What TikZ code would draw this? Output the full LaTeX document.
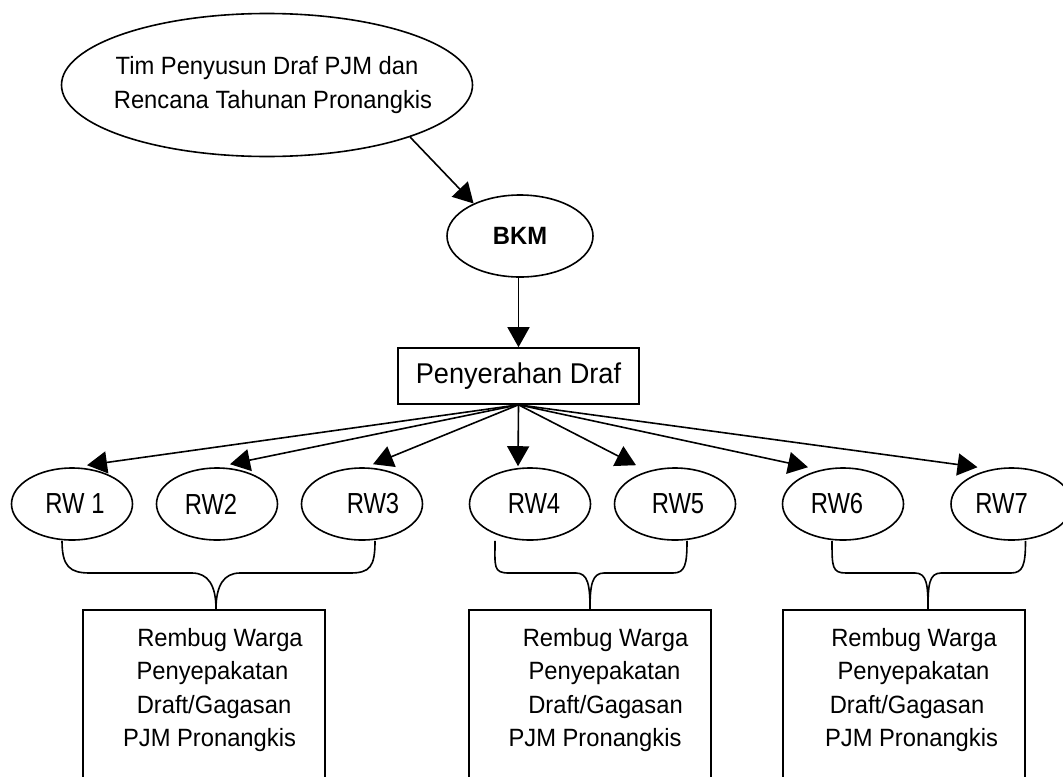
\documentclass[tikz,border=0pt]{standalone}
\usepackage{fontspec}
\setmainfont{Liberation Sans}[FakeStretch=0.95]
\newfontfamily\rwfont{Liberation Sans}[FakeStretch=0.82]
\usetikzlibrary{arrows.meta,shapes.geometric}

\begin{document}
\begin{tikzpicture}[x=0.5pt,y=-0.5pt,
  line width=0.8pt,
  oval/.style={draw, ellipse, inner sep=0pt},
  rw/.style={oval, minimum width=60.5pt, minimum height=36pt},
  rwtag/.style={font=\rwfont\fontsize{14.5}{16}\selectfont, inner sep=0pt},
  arr/.style={-{Triangle[length=10pt,width=11pt]}},
  rembox/.style={draw, rectangle, minimum width=121pt, minimum height=100pt, inner sep=0pt},
  remtext/.style={align=center, font=\fontsize{12.5}{16.75}\selectfont, inner sep=0pt},
]
\clip (0,0) rectangle (1063,776);

% top of the chain
\node[oval, minimum width=205.5pt, minimum height=71.5pt,
      label={[align=center, inner sep=0pt, font=\fontsize{12.5}{17.25}\selectfont]center:{Tim Penyusun Draf PJM dan\\\hspace*{6pt}Rencana Tahunan Pronangkis}}]
      (tim) at (267,85) {};
\node[oval, minimum width=73pt, minimum height=41pt,
      font=\bfseries\fontsize{12.5}{15}\selectfont] (bkm) at (520,236) {BKM};
\node[draw, rectangle, minimum width=120.5pt, minimum height=28pt, inner sep=0pt,
      font=\fontsize{14.3}{16}\selectfont] (pd) at (518.5,376) {Penyerahan Draf};

% the seven RW
\node[rw, label={[rwtag,xshift=1.5pt]center:RW 1}] (rw1) at (72,504) {};
\node[rw, label={[rwtag,xshift=-3pt]center:RW2}] (rw2) at (217,504) {};
\node[rw, label={[rwtag,xshift=5.5pt]center:RW3}] (rw3) at (362,504) {};
\node[rw, label={[rwtag,xshift=2pt]center:RW4}] (rw4) at (530,504) {};
\node[rw, label={[rwtag,xshift=1.5pt]center:RW5}] (rw5) at (675,504) {};
\node[rw, label={[rwtag,xshift=-3pt]center:RW6}] (rw6) at (843,504) {};
\node[rw, label={[rwtag,xshift=-5pt]center:RW7}] (rw7) at (1011.5,504) {};

% rembug warga boxes (open towards the bottom edge)
\node[rembox] (box1) at (204,710) {};
\node[rembox] (box2) at (590,710) {};
\node[rembox] (box3) at (904,710) {};
\node[remtext] (t1) at (214,690) {\hspace*{6pt}Rembug Warga\\\hspace*{-1.5pt}Penyepakatan\\Draft/Gagasan\\\hspace*{-4.5pt}PJM Pronangkis};
\node[remtext] (t2) at (603,690) {\hspace*{2.5pt}Rembug Warga\\\hspace*{1.5pt}Penyepakatan\\\hspace*{2.5pt}Draft/Gagasan\\\hspace*{-8pt}PJM Pronangkis};
\node[remtext] (t3) at (911,690) {\hspace*{3pt}Rembug Warga\\\hspace*{2.5pt}Penyepakatan\\\hspace*{-4pt}Draft/Gagasan\\\hspace*{0.5pt}PJM Pronangkis};

% arrows
\draw[arr] (tim.-20) -- (bkm.145);
\draw[arr] (pd.north |- bkm.south) -- (pd.north);
\draw[arr] (pd.south) -- ([xshift=7.5pt,yshift=1pt]rw1.north);
\draw[arr] (pd.south) -- ([xshift=6.5pt,yshift=1.5pt]rw2.north);
\draw[arr] (pd.south) -- ([xshift=5.5pt,yshift=1.5pt]rw3.north);
\draw[arr] (pd.south) -- ([xshift=-6pt,yshift=0.5pt]rw4.north);
\draw[arr] (pd.south) -- ([xshift=-19.5pt,yshift=1pt]rw5.north);
\draw[arr] (pd.south) -- ([xshift=-17.5pt]rw6.north);
\draw[arr] (pd.south) -- ([xshift=-17pt]rw7.north);

% braces joining the RW groups to their boxes
\draw ([xshift=-5pt]rw1.south) .. controls +(0,26) and +(-20,0) .. (90,573) -- (192,573)
      .. controls +(16,0) and +(0,-24) .. ([xshift=6pt]box1.north)
      .. controls +(0,-24) and +(-16,0) .. (240,573) -- (350,573)
      .. controls +(20,0) and +(0,26) .. ([xshift=6.5pt]rw3.south);
\draw ([xshift=-17.5pt]rw4.south) .. controls +(0,26) and +(-16,0) .. (509,573) -- (576,573)
      .. controls +(12,0) and +(0,-24) .. (box2.north)
      .. controls +(0,-24) and +(-12,0) .. (604,573) -- (673,573)
      .. controls +(12,0) and +(0,24) .. ([xshift=6pt]rw5.south);
\draw ([xshift=-5.5pt]rw6.south) .. controls +(0,26) and +(-14,0) .. (846,573) -- (915,573)
      .. controls +(12,0) and +(0,-24) .. ([xshift=12pt]box3.north)
      .. controls +(0,-24) and +(-12,0) .. (941,573) -- (1011,573)
      .. controls +(12,0) and +(0,24) .. ([xshift=7pt]rw7.south);
\end{tikzpicture}
\end{document}
